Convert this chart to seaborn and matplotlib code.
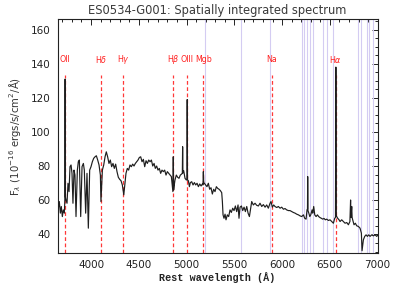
import numpy as np
import pandas as pd
import matplotlib
matplotlib.use("Agg")
import matplotlib.pyplot as plt
from matplotlib.ticker import MultipleLocator
import seaborn as sns

# ---------------- data ----------------
wave = [3651, 3658, 3668, 3679, 3689, 3700, 3710, 3721, 3726, 3729, 3732, 3738, 3749, 3759, 3770,
        3780, 3791, 3801, 3811, 3822, 3832, 3843, 3857, 3867, 3878, 3892, 3906, 3920, 3930,
        3944, 3958, 3972, 3986, 4000, 4014, 4028, 4042, 4056, 4070, 4084, 4098, 4104, 4119,
        4133, 4147, 4160, 4174, 4188, 4202, 4216, 4230, 4244, 4258, 4272, 4286, 4300, 4314,
        4328, 4338, 4343, 4356, 4366, 4380, 4394, 4408, 4422, 4436, 4450, 4464, 4478, 4492,
        4506, 4520, 4534, 4548, 4562, 4576, 4590, 4604, 4618, 4632, 4646, 4660, 4673, 4687,
        4701, 4715, 4729, 4743, 4757, 4771, 4785, 4799, 4813, 4827, 4841, 4851, 4857, 4861,
        4865, 4869, 4879, 4893, 4907, 4921, 4935, 4949, 4956, 4959, 4962, 4970, 4984, 4998,
        5004, 5007, 5010, 5019, 5030, 5040, 5054, 5068, 5082, 5096, 5110, 5124, 5138, 5152,
        5166, 5172, 5176, 5180, 5186, 5200, 5214, 5228, 5242, 5256, 5270, 5284, 5298, 5312,
        5326, 5340, 5354, 5368, 5375, 5382, 5392, 5403, 5413, 5427, 5441, 5455, 5469, 5483,
        5497, 5511, 5525, 5539, 5549, 5560, 5574, 5588, 5602, 5616, 5630, 5644, 5658, 5671,
        5682, 5699, 5717, 5734, 5752, 5769, 5787, 5804, 5822, 5839, 5856, 5874, 5884, 5898,
        5912, 5926, 5944, 5961, 5979, 5996, 6014, 6031, 6048, 6066, 6083, 6101, 6118, 6136,
        6153, 6171, 6188, 6205, 6223, 6237, 6251, 6261, 6266, 6268, 6271, 6280, 6290,
        6300, 6314, 6321, 6331, 6342, 6356, 6370, 6383, 6397, 6411, 6425, 6439, 6453, 6467,
        6485, 6502, 6520, 6537, 6551, 6559, 6563, 6567, 6572, 6582, 6596, 6607, 6624, 6642,
        6659, 6677, 6694, 6710, 6717, 6721, 6729, 6733, 6739, 6753, 6767, 6781, 6799, 6816,
        6830, 6837, 6851, 6865, 6879, 6893, 6907, 6921, 6938, 6956, 6973, 6991, 7000]
flux = [58.3, 55.4, 59.3, 52.5, 56.4, 50.5, 54.4, 52.5, 60.0, 131.0, 62.0, 60.2, 58.3, 70.0, 65.1,
        79.7, 80.7, 75.8, 58.3, 77.7, 74.8, 50.5, 77.7, 82.6, 83.6, 50.5, 79.7, 81.6, 77.7,
        52.5, 75.8, 43.7, 77.7, 79.7, 82.6, 84.6, 85.5, 86.1, 83.6, 80.7, 74.8, 59.3, 77.7,
        80.7, 85.5, 88.4, 85.5, 81.6, 83.6, 79.7, 81.6, 78.7, 81.2, 76.8, 73.5, 72.3, 71.5,
        69.0, 65.1, 63.2, 70.0, 75.8, 78.7, 77.7, 80.7, 79.7, 81.2, 80.1, 81.6, 82.6, 83.6,
        85.1, 85.5, 82.6, 84.0, 79.7, 83.2, 81.6, 83.6, 82.6, 83.6, 80.1, 81.6, 78.7, 80.1,
        77.7, 78.7, 75.8, 77.7, 76.8, 77.7, 74.8, 76.8, 75.8, 74.8, 73.9, 68.0, 65.1, 85.5,
        66.1, 68.0, 71.9, 74.8, 73.5, 72.9, 74.8, 75.4, 76.0, 91.4, 76.0, 77.4, 72.9, 71.9,
        72.0, 119.0, 72.0, 71.5, 68.0, 70.4, 70.9, 69.0, 70.4, 69.0, 70.0, 68.0, 69.6, 68.4,
        69.6, 69.0, 76.8, 70.0, 70.0, 69.0, 68.0, 70.0, 66.5, 67.4, 63.7, 66.5, 65.1, 68.0,
        67.0, 66.5, 65.7, 64.5, 59.3, 51.5, 49.5, 51.9, 48.6, 51.5, 50.5, 54.4, 52.9, 55.4,
        54.0, 56.7, 53.4, 57.3, 49.5, 56.0, 56.7, 54.0, 56.0, 53.4, 56.4, 52.5, 50.5, 55.4,
        59.3, 57.3, 58.3, 57.1, 56.7, 58.3, 56.4, 57.5, 56.0, 57.3, 55.4, 58.3, 59.3, 56.0,
        57.3, 56.4, 55.8, 56.4, 55.4, 56.0, 54.8, 55.2, 54.4, 54.0, 54.0, 53.4, 52.9, 52.5,
        51.9, 51.5, 50.9, 50.5, 51.5, 49.5, 49.0, 54.4, 55.0, 73.9, 54.0, 52.5, 50.5,
        51.5, 54.4, 52.5, 56.4, 51.5, 50.5, 51.5, 50.5, 49.9, 49.5, 49.0, 49.4, 48.6, 49.0,
        48.2, 48.6, 47.6, 46.6, 49.5, 50.0, 138.0, 51.0, 50.5, 49.5, 48.6, 47.6, 48.6, 47.6,
        46.6, 47.0, 45.7, 47.6, 60.2, 50.0, 56.4, 50.0, 48.6, 45.7, 46.6, 45.1, 44.7, 43.7,
        40.8, 30.5, 36.9, 38.9, 39.8, 38.9, 39.8, 38.9, 39.8, 39.2, 39.8, 38.9, 39.5]

line_names = ["OII", "H$\\delta$", "H$\\gamma$", "H$\\beta$", "OIII", "Mgb", "Na", "H$\\alpha$"]
line_waves = [3727, 4102, 4340, 4861, 5007, 5175, 5893, 6563]
sky_waves = [5190, 5566, 5878, 6212, 6234, 6258, 6292, 6327, 6432, 6467, 6530,
             6798, 6823, 6886, 6914, 6950]

x_ticks = [4000, 4500, 5000, 5500, 6000, 6500, 7000]
y_ticks = [40, 60, 80, 100, 120, 140, 160]

# ---------------- plot ----------------
sns.set_theme(style="white")
plt.rcParams["font.family"] = ["DejaVu Sans"]

fig = plt.figure(figsize=(3.95, 2.91), dpi=100)
ax = fig.add_axes([0.146, 0.1296, 0.810, 0.8041])

for w in sky_waves:
    ax.axvline(w, color="#d4ccf2", lw=0.8, zorder=1)

df = pd.DataFrame({"wave": wave, "flux": flux})
sns.lineplot(data=df, x="wave", y="flux", ax=ax, color="#1e1e1e", lw=0.85,
             sort=False, estimator=None, zorder=3)

for name, w in zip(line_names, line_waves):
    ax.plot([w, w], [29, 133.5], color="#ff3838", lw=0.9, ls=(0, (3, 2)), zorder=2)
    ax.text(w, 142.5, name, color="#ff2020", fontsize=5.7, ha="center", va="center")

ax.set_xlim(3651, 7000)
ax.set_ylim(29, 166)
ax.set_xticks(x_ticks)
ax.set_yticks(y_ticks)
ax.xaxis.set_minor_locator(MultipleLocator(100))
ax.yaxis.set_minor_locator(MultipleLocator(5))
ax.tick_params(which="both", direction="in", top=True, right=True,
               labelsize=7.5, colors="#222222", width=0.7)
ax.tick_params(which="major", length=4.5, pad=5)
ax.tick_params(which="minor", length=2.5)
for s in ax.spines.values():
    s.set_color("#222222")
    s.set_linewidth(0.8)

ax.set_title("ES0534-G001: Spatially integrated spectrum", fontsize=8.3,
             color="#3a3a3a", pad=4)
ax.set_xlabel("Rest wavelength (Å)", fontsize=7.3, fontweight="bold",
              family="Liberation Mono", color="#222222", labelpad=1.5)
ax.set_ylabel("F$_\\lambda$ (10$^{-16}$ ergs/s/cm$^2$/Å)", fontsize=7.3,
              color="#333333", labelpad=6)

fig.savefig("out.png", dpi=100, facecolor="white")
